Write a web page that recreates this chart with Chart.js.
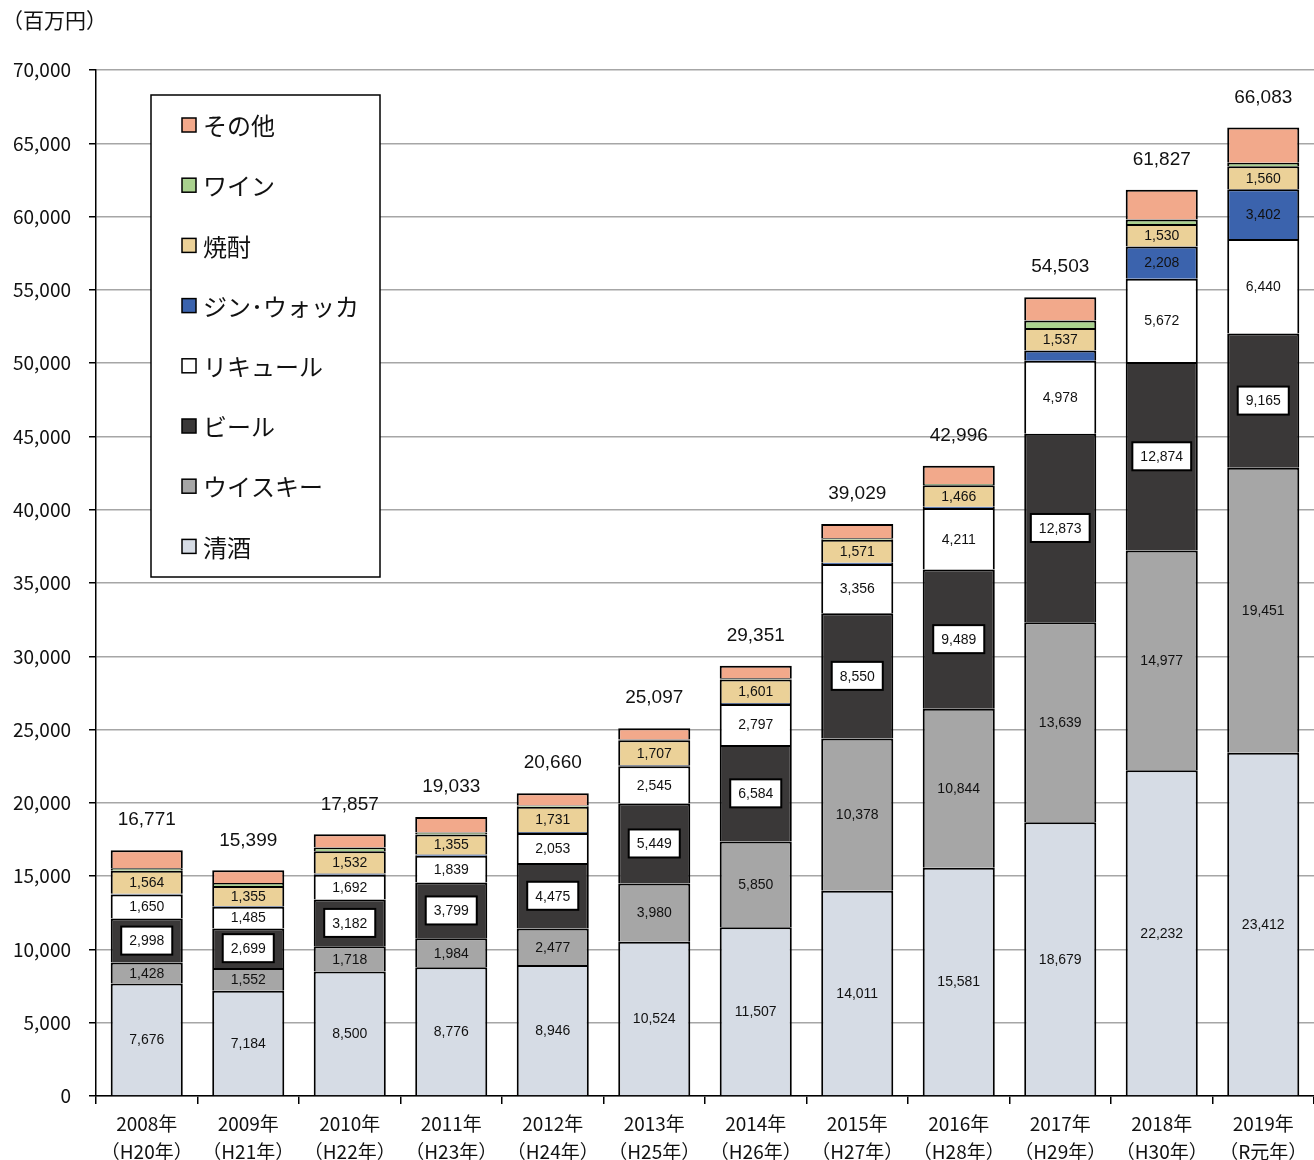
<!DOCTYPE html>
<html>
<head>
<meta charset="utf-8">
<script src="https://cdn.jsdelivr.net/npm/chart.js@4.4.1/dist/chart.umd.min.js"></script>
<style>
  body { margin: 0; background: #fff; }
  #wrap { width: 1314px; height: 1160px; position: relative; }
</style>
</head>
<body>
<div id="wrap"><canvas id="chart"></canvas></div>
<script>
const years = ["2008年", "2009年", "2010年", "2011年", "2012年", "2013年", "2014年", "2015年", "2016年", "2017年", "2018年", "2019年"];
const eras = ["（H20年）", "（H21年）", "（H22年）", "（H23年）", "（H24年）", "（H25年）", "（H26年）", "（H27年）", "（H28年）", "（H29年）", "（H30年）", "（R元年）"];

const sake = [7676, 7184, 8500, 8776, 8946, 10524, 11507, 14011, 15581, 18679, 22232, 23412];
const whisky = [1428, 1552, 1718, 1984, 2477, 3980, 5850, 10378, 10844, 13639, 14977, 19451];
const beer = [2998, 2699, 3182, 3799, 4475, 5449, 6584, 8550, 9489, 12873, 12874, 9165];
const liqueur = [1650, 1485, 1692, 1839, 2053, 2545, 2797, 3356, 4211, 4978, 5672, 6440];
const ginVodka = [50, 50, 80, 80, 60, 60, 70, 90, 80, 700, 2208, 3402];
const shochu = [1564, 1355, 1532, 1355, 1731, 1707, 1601, 1571, 1466, 1537, 1530, 1560];
const wine = [180, 200, 250, 150, 80, 60, 90, 100, 85, 500, 300, 250];
const others = [1225, 874, 903, 1050, 838, 772, 852, 973, 1240, 1597, 2034, 2403];
const totals = [16771, 15399, 17857, 19033, 20660, 25097, 29351, 39029, 42996, 54503, 61827, 66083];

const yTicks = [0, 5000, 10000, 15000, 20000, 25000, 30000, 35000, 40000, 45000, 50000, 55000, 60000, 65000, 70000];

const fmt = (v) => v.toLocaleString("en-US");

// label mode: "plain" text, "box" white boxed text, "big" only when large, null none
const series = [
  { label: "清酒", data: sake, color: "#d6dce5", mode: "plain" },
  { label: "ウイスキー", data: whisky, color: "#a6a6a6", mode: "plain" },
  { label: "ビール", data: beer, color: "#3a3838", mode: "box" },
  { label: "リキュール", data: liqueur, color: "#ffffff", mode: "plain" },
  { label: "ジン･ウォッカ", data: ginVodka, color: "#3b63ad", mode: "big" },
  { label: "焼酎", data: shochu, color: "#ebd198", mode: "plain" },
  { label: "ワイン", data: wine, color: "#a9d18e", mode: null },
  { label: "その他", data: others, color: "#f2a98b", mode: null },
];

const segLabels = {
  id: "segLabels",
  afterDatasetsDraw(chart) {
    const ctx = chart.ctx;
    ctx.save();
    ctx.textAlign = "center";
    ctx.textBaseline = "middle";
    ctx.font = "14px 'Liberation Sans', Arial, sans-serif";
    chart.data.datasets.forEach((ds, di) => {
      const mode = series[di].mode;
      if (!mode) return;
      const meta = chart.getDatasetMeta(di);
      meta.data.forEach((bar, i) => {
        const v = ds.data[i];
        if (mode === "big" && v < 1000) return;
        const y = (bar.y + bar.base) / 2;
        const text = fmt(v);
        if (mode === "box") {
          const w = ctx.measureText(text).width + 16;
          const h = 28;
          ctx.fillStyle = "#fff";
          ctx.fillRect(bar.x - w / 2, y - h / 2, w, h);
          ctx.lineWidth = 2;
          ctx.strokeStyle = "#000";
          ctx.strokeRect(bar.x - w / 2, y - h / 2, w, h);
        }
        ctx.fillStyle = "#111";
        ctx.fillText(text, bar.x, y + 1);
      });
    });
    // totals above bars
    const topMeta = chart.getDatasetMeta(chart.data.datasets.length - 1);
    ctx.font = "19px 'Liberation Sans', Arial, sans-serif";
    ctx.fillStyle = "#111";
    topMeta.data.forEach((bar, i) => {
      ctx.fillText(fmt(totals[i]), bar.x, bar.y - 30);
    });
    ctx.restore();
  },
};

const boxLegend = {
  id: "boxLegend",
  afterDraw(chart) {
    const ctx = chart.ctx;
    const a = chart.chartArea;
    const x0 = a.left + 55, y0 = a.top + 25, w = 229, h = 482;
    ctx.save();
    ctx.fillStyle = "#fff";
    ctx.fillRect(x0, y0, w, h);
    ctx.lineWidth = 1.5;
    ctx.strokeStyle = "#000";
    ctx.strokeRect(x0, y0, w, h);
    ctx.font = "24px 'Noto Sans CJK JP', sans-serif";
    ctx.textBaseline = "middle";
    ctx.textAlign = "left";
    const items = series.slice().reverse();
    items.forEach((s, k) => {
      const cy = y0 + 30 + k * 60.2;
      ctx.fillStyle = s.color;
      ctx.fillRect(x0 + 31, cy - 7, 14, 14);
      ctx.lineWidth = 1.5;
      ctx.strokeStyle = "#000";
      ctx.strokeRect(x0 + 31, cy - 7, 14, 14);
      ctx.fillStyle = "#111";
      ctx.fillText(s.label, x0 + 52, cy + 1);
    });
    // unit label
    ctx.font = "21px 'Noto Sans CJK JP', sans-serif";
    ctx.fillText("（百万円）", 2, 20);
    ctx.restore();
  },
};

new Chart(document.getElementById("chart"), {
  type: "bar",
  data: {
    labels: years.map((y, i) => [y, eras[i]]),
    datasets: series.map((s) => ({
      label: s.label,
      data: s.data,
      backgroundColor: s.color,
      borderColor: "#000",
      borderWidth: 2,
      borderSkipped: "start",
      barPercentage: 0.71,
      categoryPercentage: 1,
    })),
  },
  options: {
    responsive: true,
    maintainAspectRatio: false,
    animation: false,
    layout: { padding: { top: 70, right: 0, left: 0, bottom: 0 } },
    plugins: { legend: { display: false }, tooltip: { enabled: false } },
    scales: {
      x: {
        stacked: true,
        grid: { offset: true, drawOnChartArea: false, color: "#000", tickLength: 8, lineWidth: 1.5 },
        border: { color: "#000", width: 1.5 },
        ticks: { color: "#111", font: { family: "'Noto Sans CJK JP'", size: 19, lineHeight: 1.45 }, padding: 6, maxRotation: 0, autoSkip: false },
        afterFit: (scale) => { scale.height = 64; },
      },
      y: {
        stacked: true,
        min: 0,
        max: 70000,
        afterBuildTicks: (scale) => { scale.ticks = yTicks.map((v) => ({ value: v })); },
        grid: { color: "#a6a6a6", lineWidth: 1.5, tickColor: "#000", tickLength: 7 },
        border: { color: "#000", width: 1.5 },
        ticks: { color: "#111", font: { family: "'Noto Sans CJK JP'", size: 19 }, padding: 18, callback: (v) => fmt(v) },
        afterFit: (scale) => { scale.width = 96; },
      },
    },
  },
  plugins: [segLabels, boxLegend],
});
</script>
</body>
</html>
